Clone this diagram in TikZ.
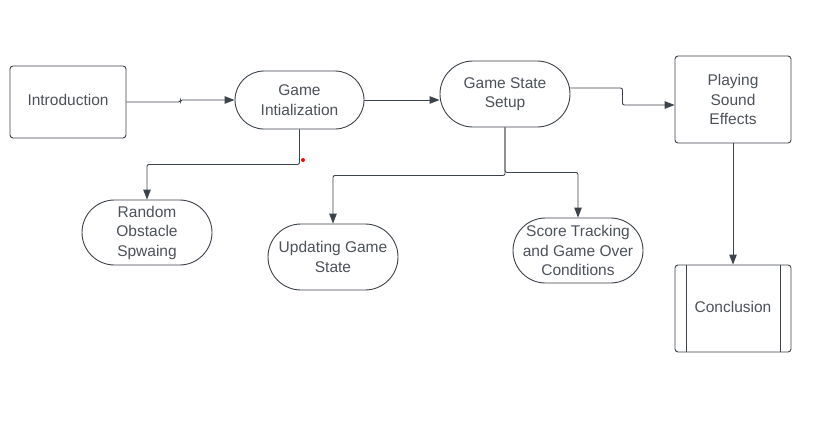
\documentclass[tikz,border=0pt]{standalone}
\usepackage{fontspec}
\setmainfont{Liberation Sans}
\usetikzlibrary{arrows.meta,calc}
\definecolor{ln}{HTML}{3D434B}
\definecolor{tx}{HTML}{4D5259}
\tikzset{
  box/.style={draw=ln, line width=0.9pt, rounded corners=3pt, align=center, text=tx,
    font=\fontsize{15.5}{19.5}\selectfont, inner sep=0pt},
  stad/.style={draw=ln, line width=0.9pt, align=center, text=tx,
    font=\fontsize{15.5}{19.5}\selectfont, inner sep=0pt},
  oneline/.style={text depth=4pt},
  arr/.style={draw=ln, line width=0.9pt, rounded corners=2pt, -{Triangle[length=10pt,width=7.5pt]}},
}
\begin{document}
\begin{tikzpicture}[x=1pt,y=-1pt]
\useasboundingbox[fill=white] (0,0) rectangle (816,426);
\node[box, oneline, minimum width=116pt, minimum height=72pt] (intro) at (68,102) {Introduction};
\node[stad, minimum width=129pt, minimum height=58pt, rounded corners=29pt] (init) at (299.5,100) {Game\\Intialization};
\node[stad, minimum width=130pt, minimum height=66pt, rounded corners=33pt] (gss) at (505,94) {Game State\\Setup};
\node[box, minimum width=116pt, minimum height=87pt] (pse) at (733,99.5) {Playing\\Sound\\Effects};
\node[box, oneline, minimum width=116pt, minimum height=87pt] (concl) at (733,308.5) {Conclusion};
\draw[ln, line width=0.9pt] ([xshift=12pt]concl.north west) -- ([xshift=12pt]concl.south west);
\draw[ln, line width=0.9pt] ([xshift=-11pt]concl.north east) -- ([xshift=-11pt]concl.south east);
\node[stad, minimum width=130pt, minimum height=65pt, rounded corners=32.5pt] (ros) at (147,232.5) {Random\\Obstacle\\Spwaing};
\node[stad, minimum width=130pt, minimum height=66pt, rounded corners=33pt] (ugs) at (333,257) {Updating Game\\State};
\node[stad, minimum width=130pt, minimum height=65pt, rounded corners=32.5pt] (st) at (578,250.5) {Score Tracking\\and Game Over\\Conditions};

\draw[arr] (intro.east) -- ++(54,0) |- (init.west);
\draw[arr] (init.east) -- (init.east -| gss.west);
\draw[arr] ([yshift=6pt]gss.east) -- ++(52,0) |- ([yshift=-5.5pt]pse.west);
\draw[arr] (pse.south) -- (concl.north);
\draw[arr] (init.south) -- ++(0,35) -| (ros.north);
\draw[arr] (gss.south) -- ++(0,48) -| (ugs.north);
\draw[arr] (gss.south) -- ++(0,45) -| (st.north);
\fill[red] (303,160) circle (2pt);
\end{tikzpicture}
\end{document}
